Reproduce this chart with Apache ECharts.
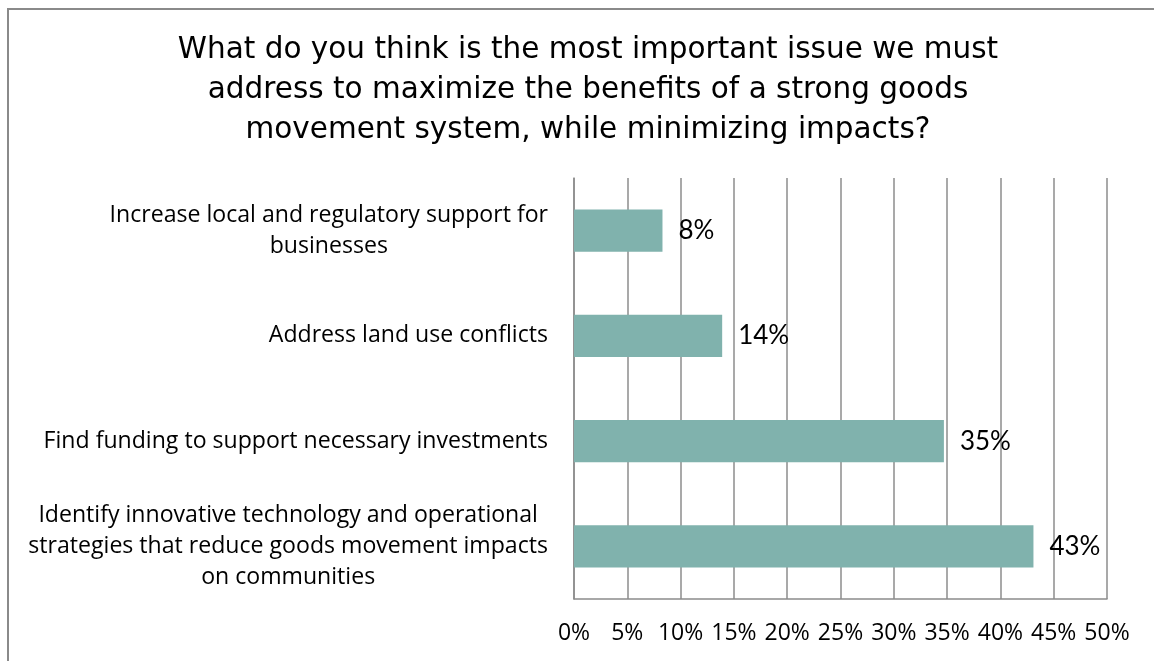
<!DOCTYPE html>
<html>
<head>
<meta charset="utf-8">
<script src="https://cdn.jsdelivr.net/npm/echarts@6/dist/echarts.min.js"></script>
<style>
html,body{margin:0;padding:0;background:#fff;}
#chart{width:1154px;height:661px;}
</style>
</head>
<body>
<div id="chart"></div>
<script>
const titleText = 'What do you think is the most important issue we must\naddress to maximize the benefits of a strong goods\nmovement system, while minimizing impacts?';
const categories = [
  'Increase local and regulatory support for\nbusinesses',
  'Address land use conflicts',
  'Find funding to support necessary investments',
  'Identify innovative technology and operational\nstrategies that reduce goods movement impacts\non communities'
];
const values = [8.3, 13.9, 34.7, 43.1];
const valueLabels = ['8%', '14%', '35%', '43%'];
const xTicks = { min: 0, max: 50, interval: 5 };

const chart = echarts.init(document.getElementById('chart'), null, {renderer: 'canvas'});
const gridColor = '#8c8c8c';
const labelFont = '"Open Sans", sans-serif';
chart.setOption({
  animation: false,
  backgroundColor: '#fff',
  graphic: [{
    type: 'rect', shape: {x: 8, y: 9, width: 1200, height: 700},
    style: {fill: 'none', stroke: '#8a8a8a', lineWidth: 2}, silent: true, z: -1
  }],
  title: {
    text: titleText, left: 583, textAlign: 'center', top: 25,
    textStyle: {fontFamily: '"DejaVu Sans", sans-serif', fontSize: 29.5, fontWeight: 'normal', color: '#000', lineHeight: 40}
  },
  grid: {left: 574, right: 47, top: 178, bottom: 62},
  xAxis: {
    type: 'value', min: xTicks.min, max: xTicks.max, interval: xTicks.interval,
    axisLine: {show: true, lineStyle: {color: gridColor, width: 1.5}},
    axisTick: {show: false},
    splitLine: {show: true, lineStyle: {color: gridColor, width: 1.5}},
    axisLabel: {formatter: '{value}%', fontFamily: labelFont, fontSize: 23, color: '#000', margin: 23}
  },
  yAxis: {
    type: 'category', data: categories, inverse: true,
    axisLine: {show: true, lineStyle: {color: gridColor, width: 1.5}},
    axisTick: {show: false},
    axisLabel: {
      margin: 26, color: '#000',
      formatter: function (v) { return v.split('\n').map(s => '{c|' + s + '}').join('\n'); },
      rich: {c: {align: 'center', fontFamily: labelFont, fontSize: 23.1, lineHeight: 31, color: '#000'}}
    }
  },
  series: [{
    type: 'bar', data: values, barWidth: '40%',
    itemStyle: {color: '#80b2ad'},
    label: {
      show: true, position: 'right', distance: 16,
      formatter: p => valueLabels[p.dataIndex],
      fontFamily: 'Lato, sans-serif', fontSize: 26, color: '#000'
    }
  }]
});
</script>
</body>
</html>
